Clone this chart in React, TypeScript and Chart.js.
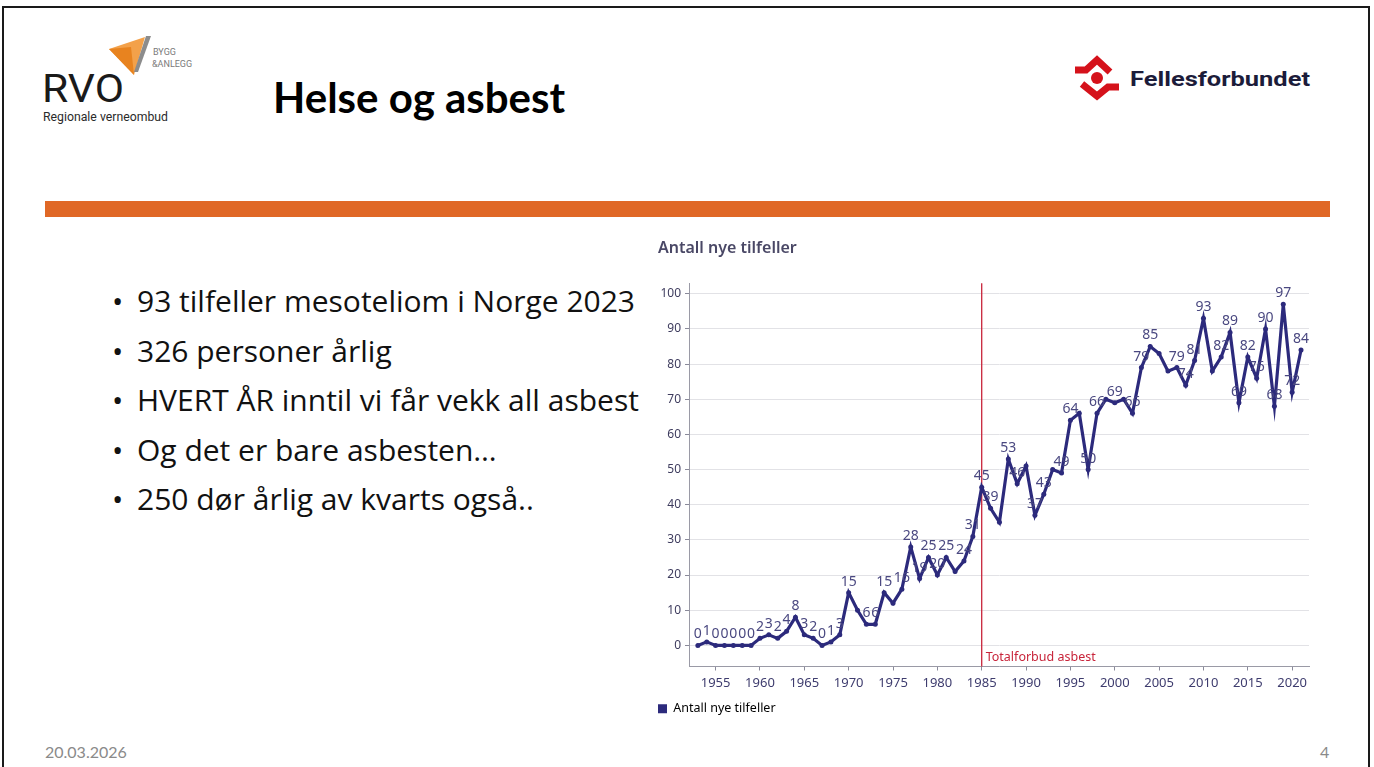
import React, { useEffect, useRef } from "react";
import { Chart, registerables } from "chart.js";

Chart.register(...registerables);

// ---------- data ----------
const years: number[] = [
  1953, 1954, 1955, 1956, 1957, 1958, 1959, 1960, 1961, 1962, 1963, 1964, 1965, 1966, 1967, 1968, 1969,
  1970, 1971, 1972, 1973, 1974, 1975, 1976, 1977, 1978, 1979, 1980, 1981, 1982, 1983, 1984,
  1985, 1986, 1987, 1988, 1989, 1990, 1991, 1992, 1993, 1994, 1995, 1996, 1997, 1998, 1999,
  2000, 2001, 2002, 2003, 2004, 2005, 2006, 2007, 2008, 2009, 2010, 2011, 2012, 2013, 2014,
  2015, 2016, 2017, 2018, 2019, 2020, 2021,
];
const cases: number[] = [
  0, 1, 0, 0, 0, 0, 0, 2, 3, 2, 4, 8, 3, 2, 0, 1, 3,
  15, 10, 6, 6, 15, 12, 16, 28, 19, 25, 20, 25, 21, 24, 31,
  45, 39, 35, 53, 46, 51, 37, 43, 50, 49, 64, 66, 50, 66, 70,
  69, 70, 66, 79, 85, 83, 78, 79, 74, 81, 93, 78, 82, 89, 69,
  82, 76, 90, 68, 97, 72, 84,
];
const unlabeledYears: number[] = [1971, 1975, 1982, 1987, 1990, 1993, 1996, 1999, 2001, 2005, 2006, 2011];
const yTickValues: number[] = [0, 10, 20, 30, 40, 50, 60, 70, 80, 90, 100];
const xTickValues: number[] = [1955, 1960, 1965, 1970, 1975, 1980, 1985, 1990, 1995, 2000, 2005, 2010, 2015, 2020];
const banYear = 1985;
const banText = "Totalforbud asbest";
const seriesLabel = "Antall nye tilfeller";
const chartTitle = "Antall nye tilfeller";

const slideTitle = "Helse og asbest";
const bulletPoints: string[] = [
  "93 tilfeller mesoteliom i Norge 2023",
  "326 personer årlig",
  "HVERT ÅR inntil vi får vekk all asbest",
  "Og det er bare asbesten…",
  "250 dør årlig av kvarts også..",
];
const dateText = "20.03.2026";
const pageNumber = "4";

const NAVY = "#2C2A7C";
const CHART_FONT = "'Noto Sans', 'DejaVu Sans', sans-serif";

function ChartPanel() {
  const ref = useRef<HTMLCanvasElement | null>(null);

  useEffect(() => {
    const canvas = ref.current;
    if (!canvas) return;

    const labelPlugin = {
      id: "pointValueLabels",
      afterDatasetsDraw(chart: any) {
        const ctx = chart.ctx;
        const meta = chart.getDatasetMeta(0);
        ctx.save();
        ctx.font = `14px ${CHART_FONT}`;
        ctx.fillStyle = "#4A4880";
        ctx.textAlign = "center";
        ctx.textBaseline = "bottom";
        meta.data.forEach((pt: any, i: number) => {
          if (unlabeledYears.includes(years[i])) return;
          ctx.fillText(String(cases[i]), pt.x, pt.y - 4);
        });
        ctx.restore();
      },
    };

    const banPlugin = {
      id: "banLine",
      beforeDatasetsDraw(chart: any) {
        const { ctx, chartArea, scales } = chart;
        const x = scales.x.getPixelForValue(banYear);
        ctx.save();
        ctx.strokeStyle = "#C8243A";
        ctx.lineWidth = 1.3;
        ctx.beginPath();
        ctx.moveTo(x, chartArea.top);
        ctx.lineTo(x, chartArea.bottom);
        ctx.stroke();
        ctx.font = `12.5px ${CHART_FONT}`;
        ctx.fillStyle = "#C8243A";
        ctx.textAlign = "left";
        ctx.textBaseline = "middle";
        ctx.fillText(banText, x + 4, chartArea.bottom - 9);
        ctx.restore();
      },
    };

    const chart = new Chart(canvas, {
      type: "line",
      data: {
        datasets: [
          {
            label: seriesLabel,
            data: years.map((y, i) => ({ x: y, y: cases[i] })),
            borderColor: NAVY,
            backgroundColor: NAVY,
            borderWidth: 3.2,
            pointRadius: 2.5,
            pointBackgroundColor: NAVY,
            pointBorderWidth: 0,
            tension: 0,
          },
        ],
      },
      options: {
        animation: false,
        responsive: false,
        maintainAspectRatio: false,
        events: [],
        layout: { padding: { left: 6, right: 11, top: 0, bottom: 0 } },
        plugins: {
          tooltip: { enabled: false },
          title: {
            display: true,
            text: chartTitle,
            align: "start",
            color: "#4A4866",
            font: { size: 16, family: CHART_FONT, weight: "600" },
            padding: { top: 3, bottom: 25 },
          },
          legend: {
            display: true,
            position: "bottom",
            align: "start",
            labels: {
              padding: 0,
              boxWidth: 9,
              boxHeight: 9,
              color: "#4A4866",
              font: { size: 12.5, family: CHART_FONT },
              generateLabels: () => [
                {
                  text: seriesLabel,
                  fillStyle: NAVY,
                  strokeStyle: NAVY,
                  lineWidth: 0,
                  hidden: false,
                  datasetIndex: 0,
                },
              ],
            },
          },
        },
        scales: {
          x: {
            type: "linear",
            min: 1952,
            max: 2021.9,
            afterBuildTicks: (scale: any) => {
              scale.ticks = xTickValues.map((v) => ({ value: v }));
            },
            afterFit: (scale: any) => {
              scale.height = 36;
            },
            grid: {
              drawOnChartArea: false,
              drawTicks: true,
              tickLength: 4,
              tickColor: "#8A8A9A",
            },
            border: { display: true, color: "#9A9AA6", width: 1 },
            ticks: {
              autoSkip: false,
              maxRotation: 0,
              padding: 5,
              color: "#3E3C6E",
              font: { size: 13, family: CHART_FONT },
              callback: (v: any) => String(v),
            },
          },
          y: {
            type: "linear",
            min: -6,
            max: 103,
            afterBuildTicks: (scale: any) => {
              scale.ticks = yTickValues.map((v) => ({ value: v }));
            },
            afterFit: (scale: any) => {
              scale.width = 31;
            },
            grid: {
              drawOnChartArea: true,
              color: "#E2E2E6",
              drawTicks: true,
              tickLength: 4,
              tickColor: "#8A8A9A",
            },
            border: { display: true, color: "#9A9AA6", width: 1 },
            ticks: {
              padding: 4,
              color: "#3E3C5E",
              font: { size: 12, family: CHART_FONT },
              callback: (v: any) => String(v),
            },
          },
        },
      },
      plugins: [banPlugin, labelPlugin],
    } as any);

    return () => chart.destroy();
  }, []);

  return (
    <canvas
      ref={ref}
      width={668}
      height={489}
      style={{ position: "absolute", left: 652, top: 236, width: 668, height: 489 }}
    />
  );
}

function RvoLogo() {
  return (
    <svg
      width={190}
      height={100}
      viewBox="30 30 190 100"
      style={{ position: "absolute", left: 30, top: 30 }}
    >
      <polygon points="109,49 145,37 134,75" fill="#F3A14A" />
      <polygon points="109,49 131,47 134,75" fill="#E8831F" />
      <polygon points="146,36 151,36 138,72 134,72" fill="#8C8C8C" />
      <text x={153} y={55} fontFamily="Roboto, 'Liberation Sans', sans-serif" fontSize={9} fill="#7A7A7A">
        BYGG
      </text>
      <text x={152} y={67} fontFamily="Roboto, 'Liberation Sans', sans-serif" fontSize={9} fill="#7A7A7A">
        &amp;ANLEGG
      </text>
      <text
        x={42}
        y={102}
        fontFamily="Roboto, 'Liberation Sans', sans-serif"
        fontWeight={400}
        fontSize={38}
        fill="#1A1A1A"
        textLength={82}
        lengthAdjust="spacingAndGlyphs"
      >
        RVO
      </text>
      <text
        x={43}
        y={121}
        fontFamily="Roboto, 'Liberation Sans', sans-serif"
        fontSize={12}
        fill="#2A2A2A"
        textLength={125}
        lengthAdjust="spacingAndGlyphs"
      >
        Regionale verneombud
      </text>
    </svg>
  );
}

function FellesLogo() {
  return (
    <svg width={260} height={60} viewBox="1070 50 260 60" style={{ position: "absolute", left: 1070, top: 50 }}>
      <polyline points="1075,70 1086,70 1097,60 1110,72" fill="none" stroke="#D5121B" strokeWidth={7} />
      <circle cx={1097} cy={78} r={6} fill="#D5121B" />
      <polyline points="1082,84 1097,96 1108,87 1119,87" fill="none" stroke="#D5121B" strokeWidth={7} />
      <text
        x={1130}
        y={86}
        fontFamily="Roboto, 'Liberation Sans', sans-serif"
        fontWeight={700}
        fontSize={21}
        fill="#1C1C3A"
        textLength={180}
        lengthAdjust="spacingAndGlyphs"
      >
        Fellesforbundet
      </text>
    </svg>
  );
}

export default function App() {
  return (
    <div
      style={{
        position: "absolute",
        left: 0,
        top: 0,
        width: 1374,
        height: 767,
        overflow: "hidden",
        background: "#FFFFFF",
        fontFamily: "Lato, 'Open Sans', sans-serif",
      }}
    >
      <div
        style={{
          position: "absolute",
          left: 2,
          top: 6,
          width: 1368,
          height: 820,
          border: "2px solid #1A1A1A",
          boxSizing: "border-box",
        }}
      />
      <RvoLogo />
      <div
        style={{
          position: "absolute",
          left: 273,
          top: 72,
          fontSize: 42,
          fontWeight: 700,
          color: "#000",
          lineHeight: "50px",
          whiteSpace: "nowrap",
        }}
      >
        {slideTitle}
      </div>
      <FellesLogo />
      <div
        style={{
          position: "absolute",
          left: 45,
          top: 201,
          width: 1285,
          height: 16,
          background: "#E06826",
        }}
      />
      {bulletPoints.map((b, i) => (
        <div
          key={i}
          style={{
            position: "absolute",
            left: 112,
            top: 301 + i * 49.5 - 21,
            height: 42,
            lineHeight: "42px",
            fontSize: 30,
            fontFamily: "'Open Sans', Lato, sans-serif",
            color: "#111",
            whiteSpace: "nowrap",
          }}
        >
          <span style={{ display: "inline-block", width: 25 }}>•</span>
          {b}
        </div>
      ))}
      <ChartPanel />
      <div style={{ position: "absolute", left: 45, top: 742, fontSize: 16, color: "#8A8A8A", lineHeight: "20px" }}>
        {dateText}
      </div>
      <div style={{ position: "absolute", left: 1320, top: 742, fontSize: 16, color: "#8A8A8A", lineHeight: "20px" }}>
        {pageNumber}
      </div>
    </div>
  );
}
